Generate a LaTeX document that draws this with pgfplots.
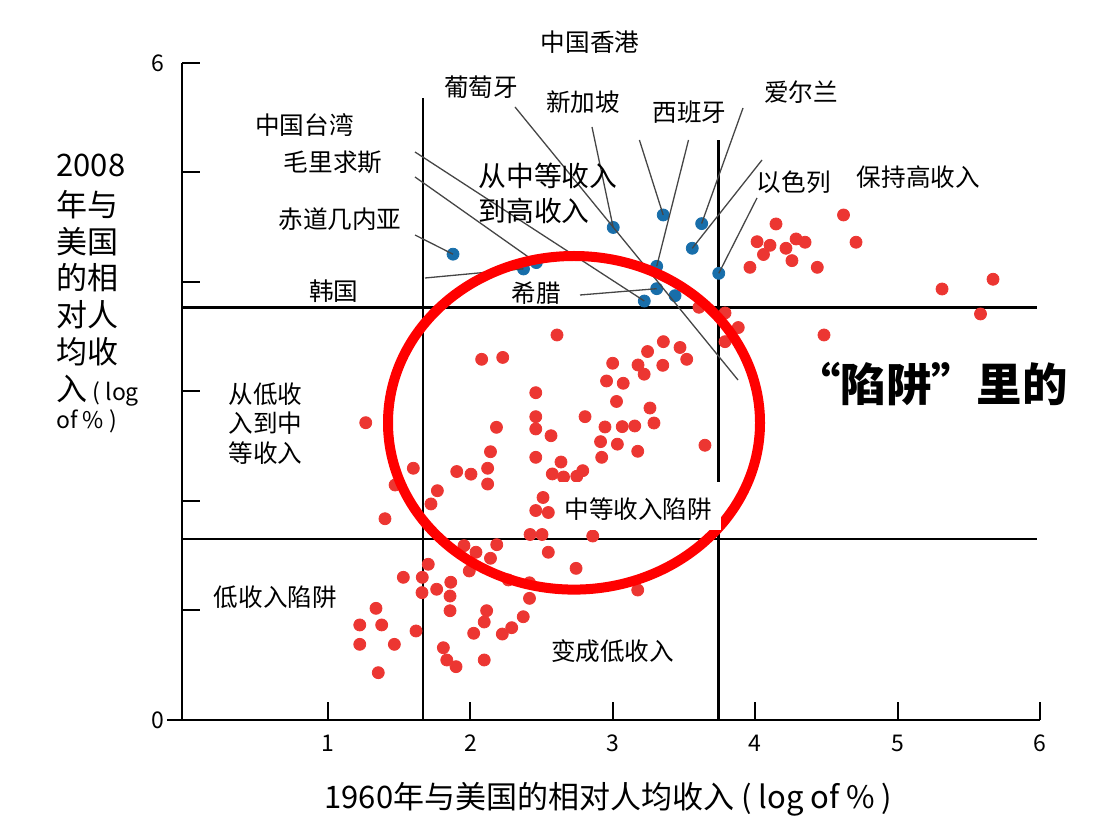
\documentclass[border=0pt]{standalone}
\usepackage{fontspec}
\setmainfont{Noto Sans CJK SC}
\usepackage{pgfplots}
\pgfplotsset{compat=1.18}
\definecolor{dotred}{RGB}{236,54,50}
\definecolor{dotblue}{RGB}{24,110,170}
\definecolor{leader}{RGB}{70,70,70}
\newcommand{\fsz}[1]{\fontsize{#1}{#1}\selectfont}

\begin{document}
\begin{tikzpicture}
\begin{axis}[
  x=71.2pt, y=54.75pt,
  xmin=-0.025, xmax=6, ymin=0, ymax=6,
  axis lines*=left,
  axis line style={line width=1.3pt, black},
  tick align=inside,
  major tick length=9pt,
  tick style={line width=1pt, black},
  xtick={1,...,6},
  ytick={0,...,6},
  yticklabels={0,,,,,,6},
  extra y ticks={0}, extra y tick labels={},
  extra y tick style={tick align=outside, major tick length=7.5pt},
  ticklabel style={font=\fsz{11.5}},
  /pgf/number format/assume math mode=true,
  xticklabel style={yshift=-4pt},
  yticklabel style={xshift=-5.5pt},
  clip=false,
]
% quadrant lines
\addplot[black, line width=1.3pt] coordinates {(-0.025,3.769) (5.98,3.769)};
\addplot[black, line width=1.3pt] coordinates {(-0.025,1.653) (5.98,1.653)};
\addplot[black, line width=1.3pt] coordinates {(1.667,0) (1.667,5.677)};
\addplot[black, line width=1.3pt] coordinates {(3.742,0) (3.742,5.297)};
% red dots
\addplot[only marks, mark=*, mark size=3pt, color=dotred, mark options={draw=dotred, fill=dotred}] table {
x y
4.620 4.612
4.146 4.530
4.013 4.368
4.104 4.335
4.287 4.393
4.350 4.363
4.216 4.308
4.058 4.251
4.258 4.195
3.963 4.134
4.436 4.134
4.708 4.363
5.312 3.936
5.670 4.025
5.582 3.708
4.483 3.516
3.605 3.769
3.788 3.717
3.881 3.584
3.788 3.455
3.647 2.509
2.608 3.516
3.244 3.365
3.355 3.455
3.472 3.402
3.519 3.294
3.351 3.239
3.177 3.242
3.220 3.158
2.999 3.258
2.956 3.096
3.073 3.075
3.026 2.909
2.805 2.770
3.261 2.849
3.289 2.712
2.945 2.676
3.066 2.679
3.154 2.685
2.914 2.542
3.032 2.519
3.175 2.454
2.922 2.399
2.636 2.356
2.566 2.596
2.575 2.247
2.654 2.219
2.747 2.226
2.789 2.277
2.510 2.032
2.459 1.913
2.547 1.895
2.419 1.694
2.503 1.694
2.859 1.680
2.079 3.294
2.227 3.311
2.459 2.989
2.459 2.770
2.459 2.658
2.183 2.673
2.141 2.450
2.459 2.399
2.121 2.299
2.121 2.155
1.904 2.269
2.004 2.245
1.768 2.094
1.723 1.973
1.265 2.715
1.599 2.299
1.471 2.146
1.400 1.838
1.955 1.592
2.039 1.532
2.185 1.601
2.141 1.477
2.547 1.532
2.742 1.385
1.704 1.422
1.992 1.361
1.529 1.303
1.662 1.303
1.660 1.163
1.763 1.194
1.862 1.258
1.857 1.132
1.857 0.998
2.114 0.998
2.097 0.895
2.023 0.792
2.224 0.785
2.290 0.843
2.371 0.943
2.415 1.111
2.415 1.253
2.266 1.279
3.175 1.187
1.337 1.020
1.223 0.868
1.377 0.868
1.618 0.813
1.223 0.691
1.466 0.691
1.810 0.660
1.834 0.548
1.899 0.487
2.097 0.548
1.353 0.432
};
% blue dots
\addplot[only marks, mark=*, mark size=3pt, color=dotblue, mark options={draw=dotblue, fill=dotblue}] table {
x y
1.878 4.254
2.373 4.119
2.463 4.177
3.003 4.498
3.354 4.612
3.624 4.533
3.558 4.308
3.308 4.143
3.308 3.939
3.221 3.826
3.437 3.875
3.744 4.079
};
\coordinate (TL) at (axis cs:-1.3034,6.5753);
\end{axis}

\begin{scope}[shift={(TL)}, x=0.5pt, y=-0.5pt, every node/.style={inner sep=0pt}]
\path (0,0) rectangle (1106,830);
% leader lines
\begin{scope}[draw=leader, line width=0.65pt]
\draw (415,235) -- (453,254.2);
\draw (425,278) -- (523.5,268.8);
\draw (415,177) -- (536.3,262.6);
\draw (415,152) -- (644.3,301);
\draw (515,107) -- (738,380);
\draw (592,127) -- (613.2,227.5);
\draw (639.4,140) -- (663.2,215);
\draw (688.5,140) -- (656.7,266.3);
\draw (743,108) -- (701.6,223.6);
\draw (762,160) -- (692.2,248.3);
\draw (757,198) -- (718.8,273.3);
\draw (580,295) -- (656.7,288.7);
\end{scope}
% red ellipse
\draw[red, line width=5pt] (574,422.8) ellipse [x radius=186, y radius=166.8];
% labels
\begin{scope}[font=\fsz{12.3}]
\node at (590,42) {中国香港};
\node at (481,87) {葡萄牙};
\node at (583,102) {新加坡};
\node at (689.5,112) {西班牙};
\node at (801,92) {爱尔兰};
\node at (304.5,125.5) {中国台湾};
\node at (333,162) {毛里求斯};
\node at (340,219.5) {赤道几内亚};
\node at (333.7,290.7) {韩国};
\node at (793.7,182.5) {以色列};
\node at (918.4,177.5) {保持高收入};
\node at (536,293.3) {希腊};
\node[anchor=west] at (228,394) {从低收};
\node[anchor=west] at (228,423.5) {入到中};
\node[anchor=west] at (228,453.5) {等收入};
\fill[white] (560,482) rectangle (721,530);
\node at (638.3,509) {中等收入陷阱};
\node at (275.3,597) {低收入陷阱};
\node at (612.6,651) {变成低收入};
\end{scope}
\node[font=\fsz{13.9}, anchor=west] at (478,175.5) {从中等收入};
\node[font=\fsz{13.9}, anchor=west] at (478,210.5) {到高收入};
\node[font=\fsz{22.7}\bfseries] at (931.5,384) {“陷阱”里的};
% axis labels
\node[font=\fsz{15.5}, anchor=base] at (608.5,808) {1960年与美国的相对人均收入 ( log of \% )};
\begin{scope}[font=\fsz{15.5}]
\node[anchor=west] at (56,165.5) {2008};
\node[anchor=west] at (56,205) {年与};
\node[anchor=west] at (56,242) {美国};
\node[anchor=west] at (56,278) {的相};
\node[anchor=west] at (56,315) {对人};
\node[anchor=west] at (56,352) {均收};
\node[anchor=base west] at (56,400.5) {入{\fsz{11.5} ( log}};
\node[anchor=base west, font=\fsz{11.5}] at (56,429) {of \% )};
\end{scope}
\end{scope}
\end{tikzpicture}
\end{document}
